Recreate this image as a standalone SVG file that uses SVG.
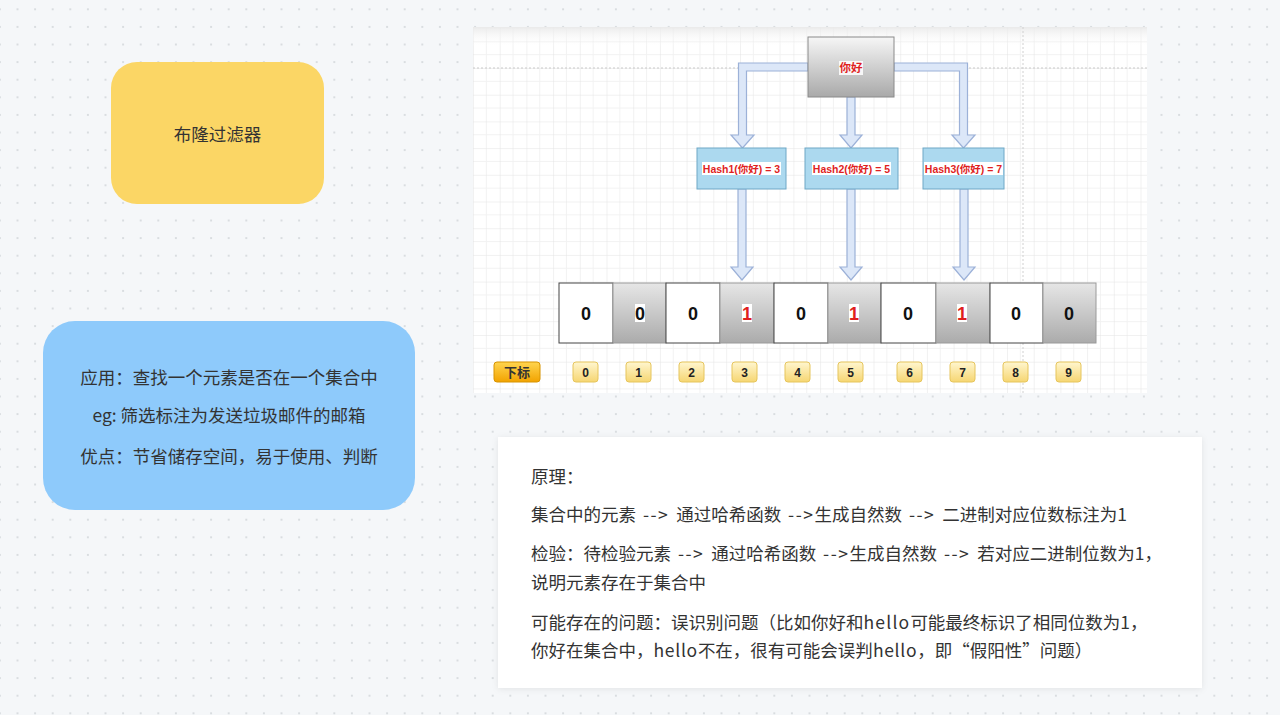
<svg xmlns="http://www.w3.org/2000/svg" width="1280" height="715" viewBox="0 0 1280 715">
<defs>
<pattern id="dots" x="8.7" y="0.5" width="17.6" height="17.6" patternUnits="userSpaceOnUse"><circle cx="8.8" cy="8.8" r="0.9" fill="#cdd1d5"/></pattern>
<pattern id="grid" x="473" y="14.6" width="26.7" height="26.7" patternUnits="userSpaceOnUse">
<path d="M13.35 0V26.7M0 13.35H26.7" stroke="#f2f2f2" stroke-width="1" fill="none"/>
<path d="M0 0V26.7M0 0H26.7" stroke="#e4e4e4" stroke-width="1" fill="none"/>
</pattern>
<linearGradient id="gGray" x1="0" y1="0" x2="0" y2="1"><stop offset="0" stop-color="#f6f6f6"/><stop offset="1" stop-color="#a9a9a9"/></linearGradient>
<linearGradient id="gCell" x1="0" y1="0" x2="0" y2="1"><stop offset="0" stop-color="#e6e6e6"/><stop offset="1" stop-color="#ababab"/></linearGradient>
<linearGradient id="gIdx" x1="0" y1="0" x2="0" y2="1"><stop offset="0" stop-color="#fff6cf"/><stop offset="1" stop-color="#f6d672"/></linearGradient>
<linearGradient id="gTag" x1="0" y1="0" x2="0" y2="1"><stop offset="0" stop-color="#ffd54f"/><stop offset="1" stop-color="#f2a300"/></linearGradient>
<linearGradient id="gBand" x1="0" y1="0" x2="0" y2="1"><stop offset="0" stop-color="#e9e9e9" stop-opacity="0.9"/><stop offset="1" stop-color="#ffffff" stop-opacity="0"/></linearGradient>
<filter id="shadow" x="-5%" y="-10%" width="110%" height="120%"><feDropShadow dx="0" dy="1" stdDeviation="3" flood-color="#000" flood-opacity="0.08"/></filter>
<style>
.cjk{font-family:"Noto Sans CJK SC","Noto Sans",sans-serif;fill:#333333;font-size:17.5px}
.ar{letter-spacing:1.5px;word-spacing:1.5px}
.hash{font-family:"Liberation Sans","Noto Sans CJK SC",sans-serif;font-weight:bold;font-size:10.5px;fill:#e01f1f;text-anchor:middle}
.hashbox{fill:#acd9ef;stroke:#6ea7c6;stroke-width:1}
.arrow{fill:#dce7f8;stroke:#9cb1d8;stroke-width:1.2}
.cw{fill:#ffffff;stroke:#444444;stroke-width:1}
.cg{fill:url(#gCell);stroke:#9a9a9a;stroke-width:1}
.num{font-family:"Liberation Sans",sans-serif;font-weight:bold;font-size:18px;text-anchor:middle;fill:#111111}
.one{fill:#e01f1f}
.idx{fill:url(#gIdx);stroke:#e6c55c;stroke-width:1}
.idxt{font-family:"Liberation Sans",sans-serif;font-weight:bold;font-size:12px;text-anchor:middle;fill:#222222}
</style>
</defs>
<rect width="1280" height="715" fill="#f5f7f9"/>
<rect width="1280" height="715" fill="url(#dots)"/>

<g id="title-node">
<rect x="111" y="62" width="213" height="142" rx="26" fill="#fbd665"/>
<text class="cjk" x="217.5" y="141" text-anchor="middle">布隆过滤器</text>
</g>

<g id="usage-node">
<rect x="43" y="321" width="372" height="189" rx="32" fill="#8ecafb"/>
<text class="cjk" x="229" y="384" text-anchor="middle">应用：查找一个元素是否在一个集合中</text>
<text class="cjk" x="229" y="422" text-anchor="middle">eg: 筛选标注为发送垃圾邮件的邮箱</text>
<text class="cjk" x="229" y="463" text-anchor="middle">优点：节省储存空间，易于使用、判断</text>
</g>

<g id="hash-figure">
<rect x="473" y="27" width="674" height="366" fill="#ffffff"/>
<rect x="473" y="27" width="674" height="366" fill="url(#grid)"/>
<rect x="473" y="27" width="674" height="20" fill="url(#gBand)"/>
<line x1="473" y1="68" x2="1147" y2="68" stroke="#c9c9c9" stroke-width="1" stroke-dasharray="2 2"/>
<line x1="1023" y1="27" x2="1023" y2="393" stroke="#d0d0d0" stroke-width="1" stroke-dasharray="2 2"/>
</g>

<g id="connectors">
<path class="arrow" d="M808 63H738.5V135H731L742.5 148L754 135H746.5V71H808Z"/>
<path class="arrow" d="M847 97V135H840L851 148L862 135H855V97Z"/>
<path class="arrow" d="M894 63H967.5V135H975L963.5 148L952 135H959.5V71H894Z"/>
<path class="arrow" d="M738 189V267H731L742 280L753 267H746V189Z"/>
<path class="arrow" d="M847 189V267H840L851 280L862 267H855V189Z"/>
<path class="arrow" d="M960 189V267H953L964 280L975 267H968V189Z"/>
</g>

<g id="node-nihao">
<rect x="808" y="37" width="86" height="60" fill="url(#gGray)" stroke="#8a8a8a" stroke-width="1"/>
<rect x="839" y="61" width="24" height="14" fill="#ffffff" opacity="0.85"/>
<text x="851" y="72" text-anchor="middle" font-family="'Noto Sans CJK SC',sans-serif" font-weight="bold" font-size="11.5px" fill="#e01f1f">你好</text>
</g>

<g id="node-hash1">
<rect class="hashbox" x="697" y="148" width="89" height="41"/>
<rect x="702" y="162" width="79" height="13" fill="#ffffff"/>
<text class="hash" x="741.5" y="172.5">Hash1(你好) = 3</text>
</g>
<g id="node-hash2">
<rect class="hashbox" x="805" y="148" width="93" height="41"/>
<rect x="812" y="162" width="79" height="13" fill="#ffffff"/>
<text class="hash" x="851.5" y="172.5">Hash2(你好) = 5</text>
</g>
<g id="node-hash3">
<rect class="hashbox" x="923" y="148" width="81" height="41"/>
<rect x="924" y="162" width="79" height="13" fill="#ffffff"/>
<text class="hash" x="963.5" y="172.5">Hash3(你好) = 7</text>
</g>

<g id="bit-array">
<rect class="cw" x="559" y="283" width="54" height="60"/>
<rect class="cg" x="613" y="283" width="53" height="60"/>
<rect class="cw" x="666" y="283" width="54" height="60"/>
<rect class="cg" x="720" y="283" width="54" height="60"/>
<rect class="cw" x="774" y="283" width="54" height="60"/>
<rect class="cg" x="828" y="283" width="53" height="60"/>
<rect class="cw" x="881" y="283" width="55" height="60"/>
<rect class="cg" x="936" y="283" width="54" height="60"/>
<rect class="cw" x="990" y="283" width="53" height="60"/>
<rect class="cg" x="1043" y="283" width="53" height="60"/>
<rect x="635" y="304" width="10" height="18" fill="#ffffff"/>
<rect x="742" y="304" width="10" height="18" fill="#ffffff"/>
<rect x="849" y="304" width="10" height="18" fill="#ffffff"/>
<rect x="957" y="304" width="10" height="18" fill="#ffffff"/>
<text class="num" x="586" y="320">0</text>
<text class="num" x="640" y="320">0</text>
<text class="num" x="693" y="320">0</text>
<text class="num one" x="747" y="320">1</text>
<text class="num" x="801" y="320">0</text>
<text class="num one" x="854" y="320">1</text>
<text class="num" x="908" y="320">0</text>
<text class="num one" x="962" y="320">1</text>
<text class="num" x="1016" y="320">0</text>
<text class="num" x="1069" y="320">0</text>
</g>

<g id="index-row">
<rect x="494" y="362" width="46" height="20" rx="3" fill="url(#gTag)" stroke="#d89400" stroke-width="1"/>
<text x="517" y="377" text-anchor="middle" font-family="'Noto Sans CJK SC',sans-serif" font-weight="bold" font-size="13px" fill="#333">下标</text>
<rect class="idx" x="573" y="362" width="25" height="20" rx="3"/><text class="idxt" x="585.5" y="376.5">0</text>
<rect class="idx" x="626" y="362" width="25" height="20" rx="3"/><text class="idxt" x="638.5" y="376.5">1</text>
<rect class="idx" x="679" y="362" width="25" height="20" rx="3"/><text class="idxt" x="691.5" y="376.5">2</text>
<rect class="idx" x="732" y="362" width="25" height="20" rx="3"/><text class="idxt" x="744.5" y="376.5">3</text>
<rect class="idx" x="785" y="362" width="25" height="20" rx="3"/><text class="idxt" x="797.5" y="376.5">4</text>
<rect class="idx" x="838" y="362" width="25" height="20" rx="3"/><text class="idxt" x="850.5" y="376.5">5</text>
<rect class="idx" x="897" y="362" width="25" height="20" rx="3"/><text class="idxt" x="909.5" y="376.5">6</text>
<rect class="idx" x="950" y="362" width="25" height="20" rx="3"/><text class="idxt" x="962.5" y="376.5">7</text>
<rect class="idx" x="1003" y="362" width="25" height="20" rx="3"/><text class="idxt" x="1015.5" y="376.5">8</text>
<rect class="idx" x="1056" y="362" width="25" height="20" rx="3"/><text class="idxt" x="1068.5" y="376.5">9</text>
</g>

<g id="principle-card">
<rect x="498" y="437" width="704" height="251" fill="#ffffff" filter="url(#shadow)"/>
<text class="cjk" x="531" y="483">原理：</text>
<text class="cjk" x="531" y="521">集合中的元素<tspan class="ar"> --&gt; </tspan>通过哈希函数<tspan class="ar"> --&gt;</tspan>生成自然数<tspan class="ar"> --&gt; </tspan>二进制对应位数标注为1</text>
<text class="cjk" x="531" y="560">检验：待检验元素<tspan class="ar"> --&gt; </tspan>通过哈希函数<tspan class="ar"> --&gt;</tspan>生成自然数<tspan class="ar"> --&gt; </tspan>若对应二进制位数为1，</text>
<text class="cjk" x="531" y="589">说明元素存在于集合中</text>
<text class="cjk" x="531" y="629">可能存在的问题：误识别问题（比如你好和<tspan letter-spacing="1.2">hello</tspan>可能最终标识了相同位数为1，</text>
<text class="cjk" x="531" y="657">你好在集合中，<tspan letter-spacing="0.7">hello</tspan>不在，很有可能会误判<tspan letter-spacing="0.7">hello</tspan>，即“假阳性”问题）</text>
</g>
</svg>
